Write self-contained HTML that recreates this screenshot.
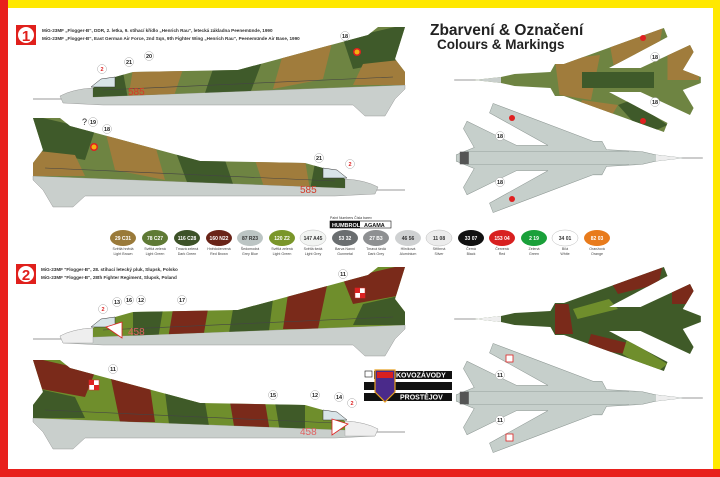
<!DOCTYPE html>
<html><head><meta charset="utf-8"><style>
html,body{margin:0;padding:0;background:#fff}
svg{display:block}
text{font-family:"Liberation Sans",sans-serif}
</style></head><body>
<svg width="720" height="477" viewBox="0 0 720 477" xmlns="http://www.w3.org/2000/svg">
<defs>
  <path id="sideBody" d="M60,-11 L75,-20 L100,-27 L205,-29 L335,-64 L345,-72 L372,-72 L362,-40 L372,-27 L372,-14 L60,-2 Z"/>
  <path id="sideLow" d="M27,-3 Q40,-10 60,-11 L60,-2 L372,-14 L372,-10 L362,0 L352,17 L332,17 L320,6 L70,6 L30,4 Z"/>
  <clipPath id="cpSide"><use href="#sideBody"/></clipPath>
  <path id="topShape" d="M0,0 L30,-3 L45,-6 L85,-8 L90,-16 L100,-16 L211,-52 L215,-43 L150,-12 L185,-12 L240,-35 L244,-28 L232,-10 L252,-3 L252,3 L232,10 L244,28 L240,35 L185,12 L150,12 L215,43 L211,52 L100,16 L90,16 L85,8 L45,6 L30,3 Z"/>
  <clipPath id="cpTop"><use href="#topShape"/></clipPath>
  <g id="sideGDR">
    <line x1="0" y1="0" x2="30" y2="0" stroke="#999" stroke-width="1"/>
    <use href="#sideLow" fill="#c9cfcc" stroke="#888" stroke-width=".4"/>
    <use href="#sideBody" fill="#6e8442"/>
    <g clip-path="url(#cpSide)">
      <polygon points="100,-30 150,-30 140,0 95,0" fill="#a07c3c"/>
      <polygon points="180,-30 230,-40 215,0 170,0" fill="#3f5a2a"/>
      <polygon points="250,-45 300,-60 290,-20 240,-10" fill="#a07c3c"/>
      <polygon points="310,-60 375,-75 375,-40 320,-30" fill="#3f5a2a"/>
      <polygon points="330,-35 375,-40 375,-14 320,-14" fill="#a07c3c"/>
      <polygon points="60,-12 90,-27 95,0 60,0" fill="#3f5a2a"/>
    </g>
    <line x1="70" y1="-9" x2="360" y2="-22" stroke="#444" stroke-width=".6"/>
    <path d="M58,-12 L68,-20 L82,-22 L82,-12 Z" fill="#d8e4e8" stroke="#333" stroke-width=".5"/>
  </g>
  <g id="sidePL">
    <line x1="0" y1="0" x2="30" y2="0" stroke="#999" stroke-width="1"/>
    <use href="#sideLow" fill="#c9cfcc" stroke="#888" stroke-width=".4"/>
    <path d="M27,-3 Q40,-10 60,-11 L60,4 L30,4 Z" fill="#eee" stroke="#999" stroke-width=".4"/>
    <use href="#sideBody" fill="#6f8e2c"/>
    <g clip-path="url(#cpSide)">
      <polygon points="140,-30 175,-30 170,0 135,0" fill="#7a2a1a"/>
      <polygon points="200,-30 240,-40 235,0 195,0" fill="#3f5a28"/>
      <polygon points="255,-45 295,-58 285,-10 250,-10" fill="#7a2a1a"/>
      <polygon points="310,-60 375,-75 375,-45 320,-35" fill="#7a2a1a"/>
      <polygon points="330,-35 375,-45 375,-14 320,-14" fill="#3f5a28"/>
      <polygon points="100,-30 130,-30 125,0 100,0" fill="#3f5a28"/>
    </g>
    <line x1="70" y1="-9" x2="360" y2="-22" stroke="#444" stroke-width=".6"/>
    <path d="M58,-12 L68,-20 L82,-22 L82,-12 Z" fill="#d8e4e8" stroke="#333" stroke-width=".5"/>
  </g>
  <g id="topGDR">
    <line x1="-22" y1="0" x2="2" y2="0" stroke="#999"/>
    <use href="#topShape" fill="#6e8442"/>
    <g clip-path="url(#cpTop)">
      <rect x="0" y="-6" width="30" height="12" fill="#c9cfcc"/>
      <polygon points="90,-20 140,-25 130,20 95,15" fill="#a07c3c"/>
      <polygon points="150,-40 210,-55 205,-30 155,-15" fill="#a07c3c"/>
      <polygon points="175,20 215,45 190,55 160,25" fill="#3f5a2a"/>
      <polygon points="120,-8 200,-8 200,8 120,8" fill="#3f5a2a"/>
      <polygon points="215,-35 250,-35 250,0 215,0" fill="#a07c3c"/>
      <polygon points="120,20 160,25 150,40 115,30" fill="#a07c3c"/>
    </g>
  </g>
  <g id="topPL">
    <line x1="-22" y1="0" x2="2" y2="0" stroke="#999"/>
    <use href="#topShape" fill="#3f5a28"/>
    <g clip-path="url(#cpTop)">
      <rect x="0" y="-6" width="30" height="12" fill="#eee"/>
      <polygon points="150,-40 210,-55 205,-35 160,-25" fill="#7a2a1a"/>
      <polygon points="110,-10 150,-20 160,-10 115,0" fill="#6f8e2c"/>
      <polygon points="130,15 175,25 170,35 125,30" fill="#7a2a1a"/>
      <polygon points="170,20 215,45 200,55 165,35" fill="#6f8e2c"/>
      <polygon points="220,-35 250,-35 245,-15 220,-15" fill="#7a2a1a"/>
      <polygon points="90,-15 105,-15 110,15 90,15" fill="#7a2a1a"/>
    </g>
  </g>
  <g id="bot">
    <line x1="-22" y1="0" x2="2" y2="0" stroke="#999"/>
    <use href="#topShape" fill="#c6cfcb" stroke="#8a9490" stroke-width=".5"/>
    <path d="M0,0 L30,-3 L30,3 Z" fill="#eee"/>
    <line x1="60" y1="-6" x2="240" y2="-6" stroke="#8a9490" stroke-width=".4"/>
    <line x1="60" y1="6" x2="240" y2="6" stroke="#8a9490" stroke-width=".4"/>
    <rect x="238" y="-6" width="10" height="12" fill="#555"/>
  </g>
</defs>

<rect x="0" y="0" width="720" height="8" fill="#ffe800"/>
<rect x="713" y="0" width="7" height="477" fill="#ffe800"/>
<rect x="0" y="0" width="8" height="477" fill="#e8201c"/>
<rect x="0" y="469" width="720" height="8" fill="#e8201c"/>

<rect x="16" y="25" width="20" height="20" fill="#e0201c"/>
<circle cx="26" cy="35" r="8" fill="#fff"/>
<text x="26" y="41" font-size="15" font-weight="bold" fill="#e0201c" text-anchor="middle" font-family="Liberation Serif">1</text>
<text x="42" y="32" font-size="4.6" font-weight="bold" fill="#333">MiG-23MF „Flogger-B“, DDR, 2. letka, 9. stíhací křídlo „Henrich Rau“, letecká základna Peenemünde, 1990</text>
<text x="42" y="40" font-size="4.6" font-weight="bold" fill="#333">MiG-23MF „Flogger-B“, East German Air Force, 2nd Sqn, 9th Fighter Wing „Henrich Rau“, Peenemünde Air Base, 1990</text>

<text x="430" y="35" font-size="15.5" font-weight="bold" fill="#222">Zbarvení &amp; Označení</text>
<text x="437" y="49" font-size="13.5" font-weight="bold" fill="#222">Colours &amp; Markings</text>

<use href="#sideGDR" transform="translate(33,99)"/>
<text x="128" y="95" font-size="10" fill="#d23a2a">585</text>
<use href="#sideGDR" transform="translate(405,190) scale(-1,1)"/>
<text x="300" y="193" font-size="10" fill="#d23a2a">585</text>
<circle cx="94" cy="147" r="4" fill="#e02020"/><circle cx="94" cy="147" r="2.5" fill="#f4b010"/>
<circle cx="357" cy="52" r="4" fill="#e02020"/><circle cx="357" cy="52" r="2.5" fill="#f4b010"/>

<use href="#topGDR" transform="translate(474,80) scale(0.9,1)"/>
<use href="#bot" transform="translate(683,158) scale(-0.9,1.05)"/>
<circle cx="643" cy="38" r="3" fill="#e02020"/><circle cx="643" cy="121" r="3" fill="#e02020"/>
<circle cx="512" cy="118" r="3" fill="#e02020"/><circle cx="512" cy="199" r="3" fill="#e02020"/>

<g font-size="5.5" font-weight="bold" text-anchor="middle" fill="#222">
  <circle cx="102" cy="69" r="4.5" fill="#fff" stroke="#aaa" stroke-width=".5"/><text x="102" y="71" fill="#d22">2</text>
  <circle cx="129" cy="62" r="4.5" fill="#fff" stroke="#aaa" stroke-width=".5"/><text x="129" y="64">21</text>
  <circle cx="149" cy="56" r="4.5" fill="#fff" stroke="#aaa" stroke-width=".5"/><text x="149" y="58">20</text>
  <circle cx="345" cy="36" r="4.5" fill="#fff" stroke="#aaa" stroke-width=".5"/><text x="345" y="38">18</text>
  <circle cx="93" cy="122" r="4.5" fill="#fff" stroke="#aaa" stroke-width=".5"/><text x="93" y="124">19</text>
  <circle cx="107" cy="129" r="4.5" fill="#fff" stroke="#aaa" stroke-width=".5"/><text x="107" y="131">18</text>
  <circle cx="319" cy="158" r="4.5" fill="#fff" stroke="#aaa" stroke-width=".5"/><text x="319" y="160">21</text>
  <circle cx="350" cy="164" r="4.5" fill="#fff" stroke="#aaa" stroke-width=".5"/><text x="350" y="166" fill="#d22">2</text>
  <circle cx="655" cy="57" r="4.5" fill="#fff" stroke="#aaa" stroke-width=".5"/><text x="655" y="59">18</text>
  <circle cx="655" cy="102" r="4.5" fill="#fff" stroke="#aaa" stroke-width=".5"/><text x="655" y="104">18</text>
  <circle cx="500" cy="136" r="4.5" fill="#fff" stroke="#aaa" stroke-width=".5"/><text x="500" y="138">18</text>
  <circle cx="500" cy="182" r="4.5" fill="#fff" stroke="#aaa" stroke-width=".5"/><text x="500" y="184">18</text>
</g>
<text x="82" y="125" font-size="9" fill="#222">?</text>

<text x="330" y="219" font-size="3.5" fill="#333">Paint Numbers  Čísla barev</text>
<rect x="330" y="221" width="61" height="7" fill="#fff" stroke="#111" stroke-width=".6"/>
<rect x="330" y="221" width="30" height="7" fill="#111"/>
<text x="332" y="227" font-size="5.5" font-weight="bold" fill="#fff">HUMBROL</text>
<text x="364" y="227" font-size="5.5" font-weight="bold" fill="#111">AGAMA</text>
<g font-size="5" font-weight="bold" text-anchor="middle">
<g transform="translate(123,238)"><ellipse rx="13" ry="8" fill="#9a7a3a"/><text y="2" fill="#fff">29 C31</text></g>
<g transform="translate(155,238)"><ellipse rx="13" ry="8" fill="#5f7a35"/><text y="2" fill="#fff">78 C27</text></g>
<g transform="translate(187,238)"><ellipse rx="13" ry="8" fill="#3d5228"/><text y="2" fill="#fff">116 C28</text></g>
<g transform="translate(219,238)"><ellipse rx="13" ry="8" fill="#6a2418"/><text y="2" fill="#fff">160 N22</text></g>
<g transform="translate(250,238)"><ellipse rx="13" ry="8" fill="#bcc5c4"/><text y="2" fill="#333">87 R23</text></g>
<g transform="translate(282,238)"><ellipse rx="13" ry="8" fill="#7a962a"/><text y="2" fill="#fff">120 Z2</text></g>
<g transform="translate(313,238)"><ellipse rx="13" ry="8" fill="#f2f4f2" stroke="#bbb" stroke-width=".5"/><text y="2" fill="#333">147 A45</text></g>
<g transform="translate(345,238)"><ellipse rx="13" ry="8" fill="#6a6e70"/><text y="2" fill="#fff">53 32</text></g>
<g transform="translate(376,238)"><ellipse rx="13" ry="8" fill="#8e9092"/><text y="2" fill="#fff">27 B3</text></g>
<g transform="translate(408,238)"><ellipse rx="13" ry="8" fill="#cfd1d2"/><text y="2" fill="#333">46 56</text></g>
<g transform="translate(439,238)"><ellipse rx="13" ry="8" fill="#ececec" stroke="#bbb" stroke-width=".5"/><text y="2" fill="#333">11 08</text></g>
<g transform="translate(471,238)"><ellipse rx="13" ry="8" fill="#111"/><text y="2" fill="#fff">33 07</text></g>
<g transform="translate(502,238)"><ellipse rx="13" ry="8" fill="#d82020"/><text y="2" fill="#fff">153 04</text></g>
<g transform="translate(534,238)"><ellipse rx="13" ry="8" fill="#1aa03a"/><text y="2" fill="#fff">2 19</text></g>
<g transform="translate(565,238)"><ellipse rx="13" ry="8" fill="#fff" stroke="#bbb" stroke-width=".5"/><text y="2" fill="#333">34 01</text></g>
<g transform="translate(597,238)"><ellipse rx="13" ry="8" fill="#e87b1c"/><text y="2" fill="#fff">82 03</text></g>
</g>
<g font-size="3.6" text-anchor="middle" fill="#444">
<text x="123" y="250">Světlá hnědá</text><text x="123" y="255">Light Brown</text>
<text x="155" y="250">Světlá zelená</text><text x="155" y="255">Light Green</text>
<text x="187" y="250">Tmavá zelená</text><text x="187" y="255">Dark Green</text>
<text x="219" y="250">Hnědočervená</text><text x="219" y="255">Red Brown</text>
<text x="250" y="250">Šedomodrá</text><text x="250" y="255">Grey Blue</text>
<text x="282" y="250">Světlá zelená</text><text x="282" y="255">Light Green</text>
<text x="313" y="250">Světlá šedá</text><text x="313" y="255">Light Grey</text>
<text x="345" y="250">Barva Nanní</text><text x="345" y="255">Gunmetal</text>
<text x="376" y="250">Tmavá šedá</text><text x="376" y="255">Dark Grey</text>
<text x="408" y="250">Hliníková</text><text x="408" y="255">Aluminium</text>
<text x="439" y="250">Stříbrná</text><text x="439" y="255">Silver</text>
<text x="471" y="250">Černá</text><text x="471" y="255">Black</text>
<text x="502" y="250">Červená</text><text x="502" y="255">Red</text>
<text x="534" y="250">Zelená</text><text x="534" y="255">Green</text>
<text x="565" y="250">Bílá</text><text x="565" y="255">White</text>
<text x="597" y="250">Oranžová</text><text x="597" y="255">Orange</text>
</g>

<rect x="16" y="264" width="20" height="20" fill="#e0201c"/>
<circle cx="26" cy="274" r="8" fill="#fff"/>
<text x="26" y="280" font-size="15" font-weight="bold" fill="#e0201c" text-anchor="middle" font-family="Liberation Serif">2</text>
<text x="41" y="271" font-size="4.6" font-weight="bold" fill="#333">MiG-23MF "Flogger-B", 28. stíhací letecký pluk, Slupsk, Polsko</text>
<text x="41" y="279" font-size="4.6" font-weight="bold" fill="#333">MiG-23MF "Flogger-B", 28th Fighter Regiment, Slupsk, Poland</text>

<use href="#sidePL" transform="translate(33,339)"/>
<text x="128" y="335" font-size="10" fill="#e06060">458</text>
<polygon points="106,327 122,322 122,338" fill="#fff" stroke="#d22" stroke-width=".8"/>
<use href="#sidePL" transform="translate(405,432) scale(-1,1)"/>
<text x="300" y="435" font-size="10" fill="#e06060">458</text>
<polygon points="348,424 332,419 332,435" fill="#fff" stroke="#d22" stroke-width=".8"/>
<rect x="355" y="288" width="10" height="10" fill="#fff" stroke="#d22" stroke-width=".5"/><rect x="355" y="288" width="5" height="5" fill="#d22"/><rect x="360" y="293" width="5" height="5" fill="#d22"/>
<rect x="89" y="380" width="10" height="10" fill="#fff" stroke="#d22" stroke-width=".5"/><rect x="89" y="380" width="5" height="5" fill="#d22"/><rect x="94" y="385" width="5" height="5" fill="#d22"/>

<use href="#topPL" transform="translate(474,319) scale(0.9,1)"/>
<use href="#bot" transform="translate(683,398) scale(-0.9,1.05)"/>
<rect x="506" y="355" width="7" height="7" fill="#fff" stroke="#d22" stroke-width=".8"/>
<rect x="506" y="434" width="7" height="7" fill="#fff" stroke="#d22" stroke-width=".8"/>

<g font-size="5.5" font-weight="bold" text-anchor="middle" fill="#222">
  <circle cx="103" cy="309" r="4.5" fill="#fff" stroke="#aaa" stroke-width=".5"/><text x="103" y="311" fill="#d22">2</text>
  <circle cx="117" cy="302" r="4.5" fill="#fff" stroke="#aaa" stroke-width=".5"/><text x="117" y="304">13</text>
  <circle cx="129" cy="300" r="4.5" fill="#fff" stroke="#aaa" stroke-width=".5"/><text x="129" y="302">16</text>
  <circle cx="141" cy="300" r="4.5" fill="#fff" stroke="#aaa" stroke-width=".5"/><text x="141" y="302">12</text>
  <circle cx="182" cy="300" r="4.5" fill="#fff" stroke="#aaa" stroke-width=".5"/><text x="182" y="302">17</text>
  <circle cx="343" cy="274" r="4.5" fill="#fff" stroke="#aaa" stroke-width=".5"/><text x="343" y="276">11</text>
  <circle cx="113" cy="369" r="4.5" fill="#fff" stroke="#aaa" stroke-width=".5"/><text x="113" y="371">11</text>
  <circle cx="273" cy="395" r="4.5" fill="#fff" stroke="#aaa" stroke-width=".5"/><text x="273" y="397">15</text>
  <circle cx="315" cy="395" r="4.5" fill="#fff" stroke="#aaa" stroke-width=".5"/><text x="315" y="397">12</text>
  <circle cx="339" cy="397" r="4.5" fill="#fff" stroke="#aaa" stroke-width=".5"/><text x="339" y="399">14</text>
  <circle cx="352" cy="403" r="4.5" fill="#fff" stroke="#aaa" stroke-width=".5"/><text x="352" y="405" fill="#d22">2</text>
  <circle cx="500" cy="375" r="4.5" fill="#fff" stroke="#aaa" stroke-width=".5"/><text x="500" y="377">11</text>
  <circle cx="500" cy="420" r="4.5" fill="#fff" stroke="#aaa" stroke-width=".5"/><text x="500" y="422">11</text>
</g>

<rect x="365" y="371" width="7" height="6" fill="#fff" stroke="#111" stroke-width=".6"/>
<rect x="374" y="371" width="78" height="8" fill="#111"/>
<rect x="364" y="382" width="88" height="8" fill="#111"/>
<rect x="364" y="393" width="88" height="8" fill="#111"/>
<path d="M375,370 L395,370 L395,392 L385,402 L375,392 Z" fill="#4a2a8a" stroke="#e8a020" stroke-width="1.2"/>
<rect x="377" y="372" width="16" height="6" fill="#d82020"/>
<text x="396" y="377.5" font-size="7" font-weight="bold" fill="#fff">KOVOZÁVODY</text>
<text x="400" y="399.5" font-size="7" font-weight="bold" fill="#fff">PROSTĚJOV</text>
</svg>
</body></html>
